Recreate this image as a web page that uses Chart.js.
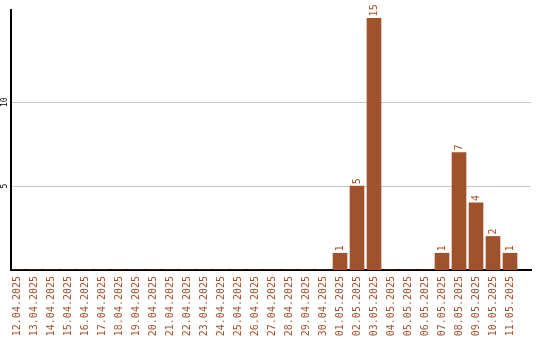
<!DOCTYPE html>
<html>
<head>
<meta charset="utf-8">
<script src="https://cdn.jsdelivr.net/npm/chart.js@4"></script>
<style>
  body { margin: 0; background: #fff; }
  #caixa { width: 540px; height: 340px; }
</style>
</head>
<body>
<div id="caixa"><canvas id="grafico" width="540" height="340"></canvas></div>
<script>
const datas = [
  '12.04.2025', '13.04.2025', '14.04.2025', '15.04.2025', '16.04.2025', '17.04.2025',
  '18.04.2025', '19.04.2025', '20.04.2025', '21.04.2025', '22.04.2025', '23.04.2025',
  '24.04.2025', '25.04.2025', '26.04.2025', '27.04.2025', '28.04.2025', '29.04.2025',
  '30.04.2025', '01.05.2025', '02.05.2025', '03.05.2025', '04.05.2025', '05.05.2025',
  '06.05.2025', '07.05.2025', '08.05.2025', '09.05.2025', '10.05.2025', '11.05.2025'
];
const quantidades = [
  0, 0, 0, 0, 0, 0,
  0, 0, 0, 0, 0, 0,
  0, 0, 0, 0, 0, 0,
  0, 1, 5, 15, 0, 0,
  0, 1, 7, 4, 2, 1
];
const ticksY = [5, 10];

const corBarra = '#A0522D';
const fonteMono = '"DejaVu Sans Mono", monospace';

// escreve o valor em pé em cima de cada barra
const etiquetasBarras = {
  id: 'etiquetasBarras',
  afterDatasetsDraw(chart) {
    const ctx = chart.ctx;
    const meta = chart.getDatasetMeta(0);
    ctx.save();
    ctx.font = '10px ' + fonteMono;
    ctx.fillStyle = corBarra;
    ctx.textAlign = 'left';
    ctx.textBaseline = 'middle';
    meta.data.forEach((barra, i) => {
      const v = quantidades[i];
      if (!v) return;
      ctx.save();
      ctx.translate(barra.x, barra.y - 2);
      ctx.rotate(-Math.PI / 2);
      ctx.fillText(String(v), 0, 0);
      ctx.restore();
    });
    ctx.restore();
  }
};

const ctx = document.getElementById('grafico').getContext('2d');

new Chart(ctx, {
  type: 'bar',
  data: {
    datasets: [{
      data: quantidades.map((v, i) => ({ x: i, y: v })),
      backgroundColor: corBarra,
      borderWidth: 0,
      barThickness: 14
    }]
  },
  options: {
    responsive: false,
    animation: false,
    layout: { padding: { top: 10, right: 9, left: 0, bottom: 0 } },
    plugins: {
      legend: { display: false },
      tooltip: { enabled: false }
    },
    scales: {
      x: {
        type: 'linear',
        offset: false,
        min: -0.353,
        max: 30.235,
        grid: { display: false, drawTicks: false },
        border: { display: true, color: '#000', width: 2 },
        afterBuildTicks: (escala) => {
          escala.ticks = datas.map((d, i) => ({ value: i }));
        },
        afterFit: (escala) => { escala.height = 70; },
        ticks: {
          autoSkip: false,
          minRotation: 90,
          maxRotation: 90,
          padding: 6,
          color: corBarra,
          font: { family: fonteMono, size: 10 },
          callback: (valor) => datas[valor] || ''
        }
      },
      y: {
        min: 0,
        max: 15.5,
        grid: { color: '#c8c8c8', lineWidth: 1, drawTicks: false },
        border: { display: true, color: '#000', width: 2 },
        afterBuildTicks: (escala) => {
          escala.ticks = ticksY.map((v) => ({ value: v }));
        },
        afterFit: (escala) => { escala.width = 11; },
        ticks: {
          minRotation: 90,
          maxRotation: 90,
          crossAlign: 'center',
          padding: 1,
          color: '#000',
          font: { family: fonteMono, size: 8 }
        }
      }
    }
  },
  plugins: [etiquetasBarras]
});
</script>
</body>
</html>
